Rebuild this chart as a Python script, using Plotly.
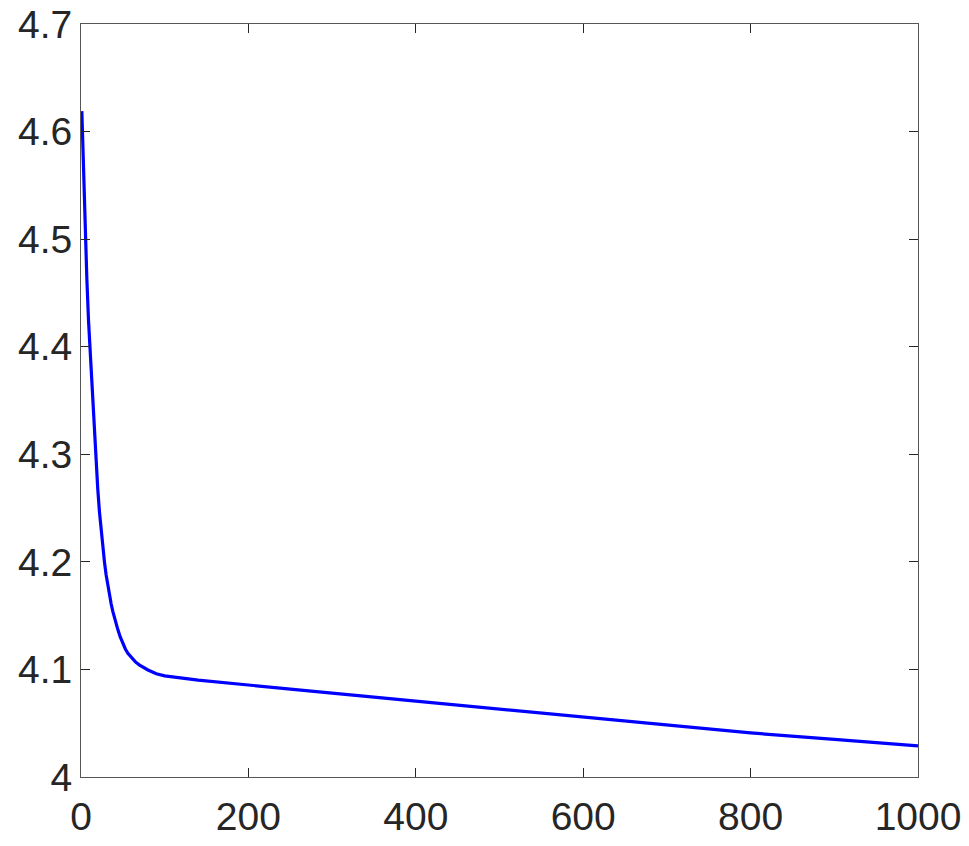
import plotly.graph_objects as go

# Data
iteration = [1, 2, 3, 4, 5, 7, 9, 11, 13, 15, 17, 20, 22, 24, 26, 28, 30, 32, 34, 36, 38,
             41, 44, 47, 50, 53, 56, 60, 65, 70, 75, 80, 90, 100, 140, 178, 250, 300, 400,
             500, 608, 700, 800, 900, 1000]
value = [4.619, 4.589, 4.561, 4.534, 4.510, 4.463, 4.424, 4.394, 4.362, 4.333, 4.305, 4.268,
         4.247, 4.229, 4.214, 4.200, 4.188, 4.178, 4.169, 4.161, 4.154,
         4.145, 4.137, 4.130, 4.124, 4.119, 4.115, 4.111, 4.107, 4.104, 4.1015, 4.0995,
         4.096, 4.094, 4.090, 4.087, 4.0815, 4.078, 4.0705,
         4.063, 4.055, 4.048, 4.041, 4.035, 4.029]

x_ticks = [0, 200, 400, 600, 800, 1000]
x_tick_labels = ["0", "200", "400", "600", "800", "1000"]
y_ticks = [4.0, 4.1, 4.2, 4.3, 4.4, 4.5, 4.6, 4.7]
y_tick_labels = ["4", "4.1", "4.2", "4.3", "4.4", "4.5", "4.6", "4.7"]

fig = go.Figure()
fig.add_trace(go.Scatter(x=iteration, y=value, mode="lines",
                         line=dict(color="#0000FF", width=3.2),
                         showlegend=False))

axis_common = dict(
    showgrid=False, zeroline=False, showline=True, linecolor="#555555", linewidth=1,
    mirror="ticks", ticks="inside", ticklen=9, tickwidth=1, tickcolor="#262626",
    automargin=False, ticklabeloverflow="allow",
    tickfont=dict(family="Liberation Sans, Arial, sans-serif", size=39, color="#262626"),
)

fig.update_xaxes(range=[0, 1000], tickvals=x_ticks, ticktext=x_tick_labels,
                 ticklabelstandoff=5, **axis_common)
fig.update_yaxes(range=[4.0, 4.7], tickvals=y_ticks, ticktext=y_tick_labels, **axis_common)

fig.update_layout(
    width=969, height=846,
    margin=dict(l=81, r=51, t=24, b=69),
    paper_bgcolor="white", plot_bgcolor="white",
)

# remove the page's default body margin so the figure fills the window exactly
fig.write_html("out.html", config={"displayModeBar": False},
               post_script="document.body.style.margin='0';")
